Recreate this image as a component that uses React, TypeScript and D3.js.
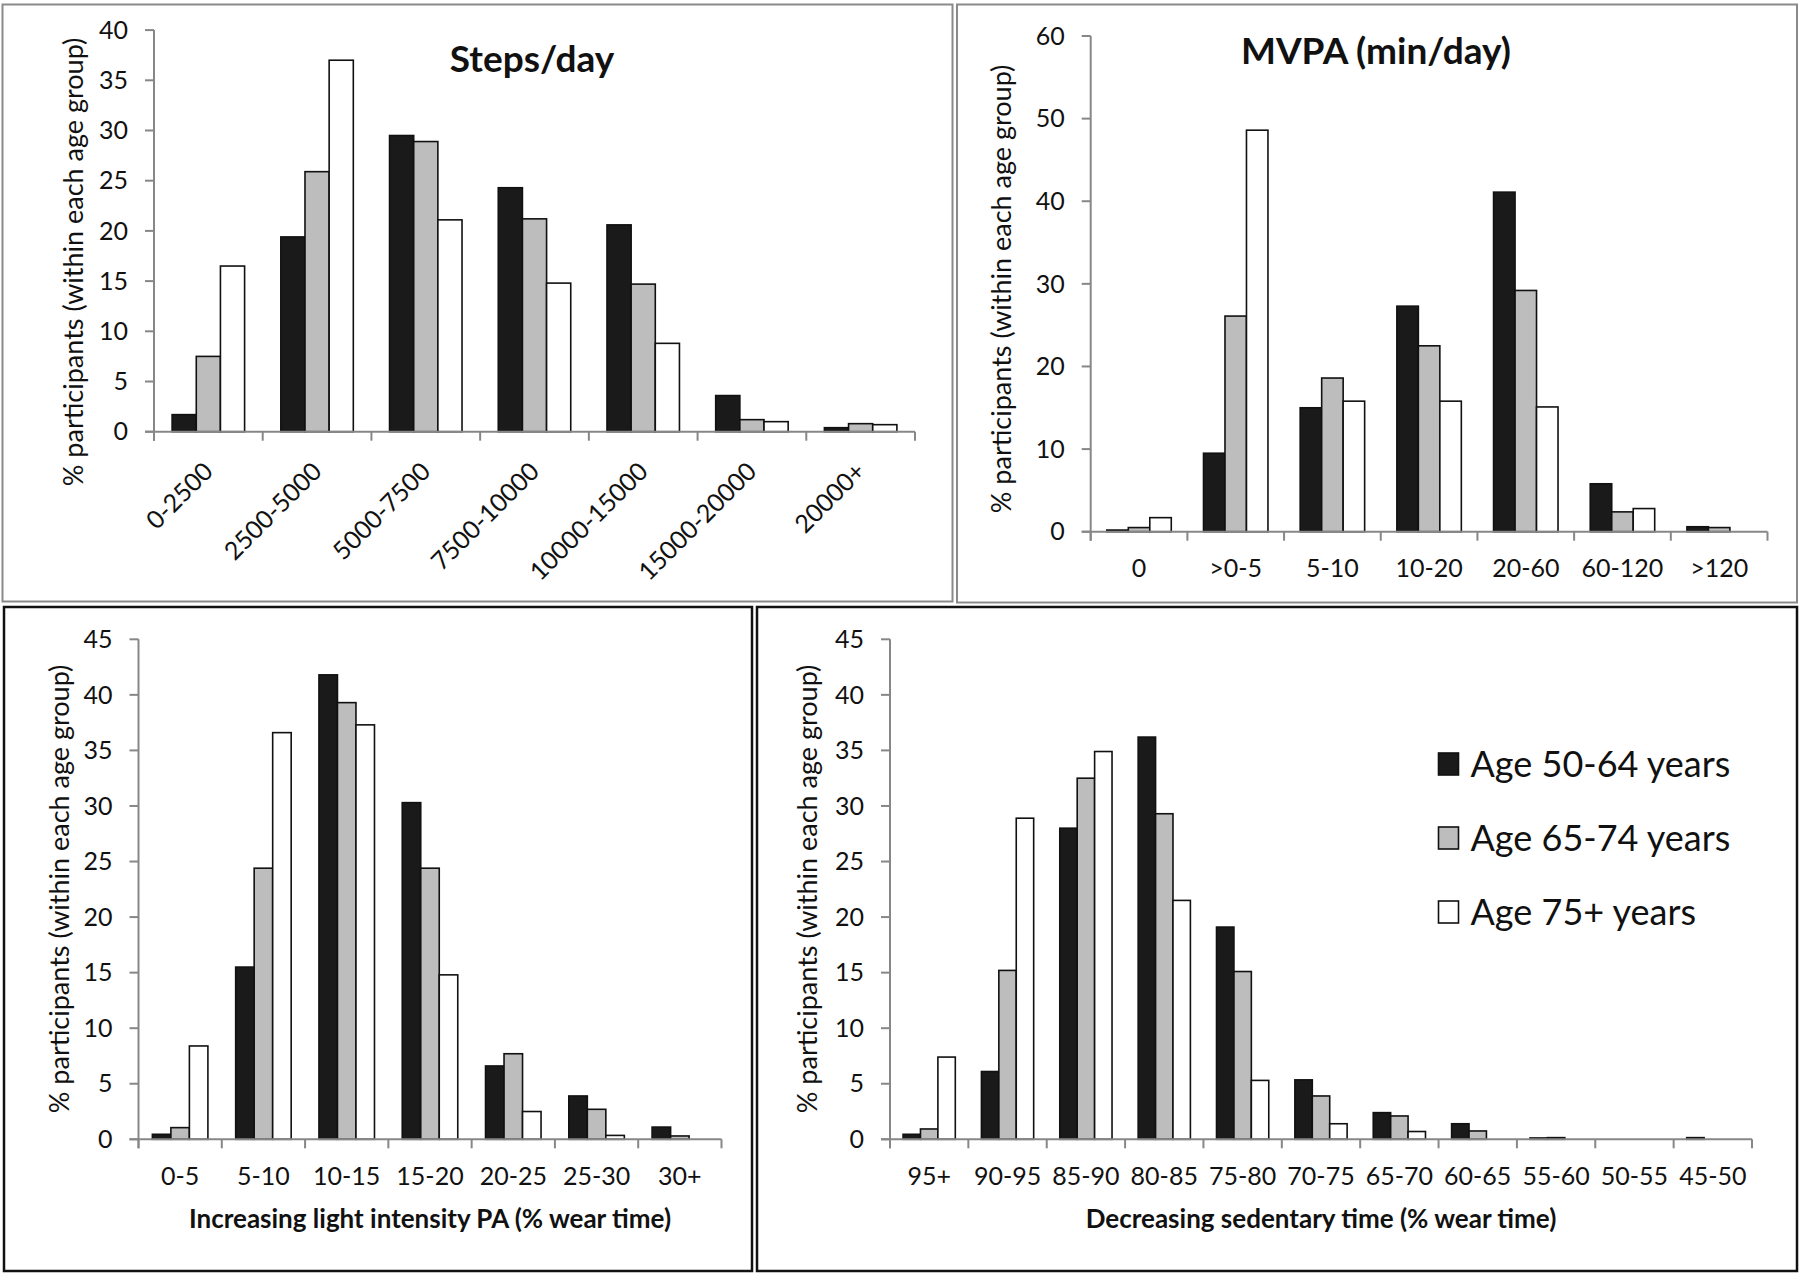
import React from "react";
import * as d3 from "d3";

// ---------- DATA ----------
const seriesNames = ["Age 50-64 years", "Age 65-74 years", "Age 75+ years"];
const seriesFills = ["#1a1a1a", "#bdbdbd", "#ffffff"];

const stepsCats = ["0-2500", "2500-5000", "5000-7500", "7500-10000", "10000-15000", "15000-20000", "20000+"];
const steps50 = [1.7, 19.4, 29.5, 24.3, 20.6, 3.6, 0.4];
const steps65 = [7.5, 25.9, 28.9, 21.2, 14.7, 1.2, 0.8];
const steps75 = [16.5, 37.0, 21.1, 14.8, 8.8, 1.0, 0.7];
const stepsTicks = [0, 5, 10, 15, 20, 25, 30, 35, 40];

const mvpaCats = ["0", ">0-5", "5-10", "10-20", "20-60", "60-120", ">120"];
const mvpa50 = [0.2, 9.5, 15.0, 27.3, 41.1, 5.8, 0.6];
const mvpa65 = [0.5, 26.1, 18.6, 22.5, 29.2, 2.4, 0.5];
const mvpa75 = [1.7, 48.6, 15.8, 15.8, 15.1, 2.8, 0];
const mvpaTicks = [0, 10, 20, 30, 40, 50, 60];

const lightCats = ["0-5", "5-10", "10-15", "15-20", "20-25", "25-30", "30+"];
const light50 = [0.45, 15.5, 41.8, 30.3, 6.6, 3.9, 1.1];
const light65 = [1.05, 24.4, 39.3, 24.4, 7.7, 2.7, 0.3];
const light75 = [8.4, 36.6, 37.3, 14.8, 2.5, 0.35, 0];
const lightTicks = [0, 5, 10, 15, 20, 25, 30, 35, 40, 45];

const sedCats = ["95+", "90-95", "85-90", "80-85", "75-80", "70-75", "65-70", "60-65", "55-60", "50-55", "45-50"];
const sed50 = [0.45, 6.1, 28.0, 36.2, 19.1, 5.35, 2.4, 1.4, 0.12, 0, 0.15];
const sed65 = [0.93, 15.2, 32.5, 29.3, 15.1, 3.9, 2.1, 0.75, 0.15, 0, 0];
const sed75 = [7.4, 28.9, 34.9, 21.5, 5.3, 1.4, 0.7, 0, 0, 0, 0];
const sedTicks = [0, 5, 10, 15, 20, 25, 30, 35, 40, 45];

const yTitle = "% participants (within each age group)";

const FONT = "Lato, 'Open Sans', sans-serif";
const AXIS = "#878787";

type PanelProps = {
  cats: string[];
  series: number[][];
  ticks: number[];
  x0: number; x1: number; yB: number; yT: number;
  rotated?: boolean;
  labelY?: number;
  title?: string; titleX?: number; titleY?: number;
  xTitle?: string; xTitleY?: number;
  yTitleX: number; yTitleY: number;
};

function Panel(p: PanelProps) {
  const x = d3.scaleBand<string>().domain(p.cats).range([p.x0, p.x1]).paddingInner(1 / 3).paddingOuter(1 / 6);
  const inner = d3.scaleBand<number>().domain([0, 1, 2]).range([0, x.bandwidth()]).padding(0);
  const yMax = p.ticks[p.ticks.length - 1];
  const y = d3.scaleLinear().domain([0, yMax]).range([p.yB, p.yT]);
  const step = x.step();
  const bounds = d3.range(p.cats.length + 1).map((i) => p.x0 + i * step);
  return (
    <g fontFamily={FONT}>
      {/* bars */}
      {p.cats.map((c, ci) =>
        p.series.map((s, si) => {
          const v = s[ci];
          if (!v) return null;
          const bx = (x(c) as number) + (inner(si) as number);
          return (
            <rect key={c + si} x={bx} y={y(v)} width={inner.bandwidth()} height={p.yB - y(v)}
              fill={seriesFills[si]} stroke="#111" strokeWidth={1.6} />
          );
        })
      )}
      {/* y axis */}
      <line x1={p.x0} x2={p.x0} y1={y(yMax)} y2={p.yB + 9} stroke={AXIS} strokeWidth={2} />
      {p.ticks.map((t) => (
        <g key={t}>
          <line x1={p.x0 - 9} x2={p.x0} y1={y(t)} y2={y(t)} stroke={AXIS} strokeWidth={2} />
          <text x={p.x0 - 26} y={y(t)} dy="0.35em" textAnchor="end" fontSize={25} fill="#111">{t}</text>
        </g>
      ))}
      {/* x axis */}
      <line x1={p.x0 - 9} x2={p.x1} y1={p.yB} y2={p.yB} stroke={AXIS} strokeWidth={2} />
      {bounds.map((bx, i) => (
        <line key={i} x1={bx} x2={bx} y1={p.yB} y2={p.yB + 9} stroke={AXIS} strokeWidth={2} />
      ))}
      {p.cats.map((c) => {
        const cx = (x(c) as number) + x.bandwidth() / 2;
        return p.rotated ? (
          <text key={c} transform={`translate(${cx},${p.yB + 35}) rotate(-45)`} dy="0.35em" textAnchor="end" fontSize={25} fill="#111">{c}</text>
        ) : (
          <text key={c} x={cx} y={p.labelY} textAnchor="middle" fontSize={25} fill="#111">{c}</text>
        );
      })}
      {/* y title */}
      <text transform={`translate(${p.yTitleX},${p.yTitleY}) rotate(-90)`} dy="0.35em" textAnchor="middle" fontSize={27} fill="#111">{yTitle}</text>
      {p.title && (
        <text x={p.titleX} y={p.titleY} textAnchor="middle" fontSize={37} fontWeight="bold" fill="#111">{p.title}</text>
      )}
      {p.xTitle && (
        <text x={(p.x0 + p.x1) / 2} y={p.xTitleY} textAnchor="middle" fontSize={26} fontWeight="bold" fill="#111">{p.xTitle}</text>
      )}
    </g>
  );
}

export default function App() {
  return (
    <svg width={1800} height={1276} style={{ position: "absolute", left: 0, top: 0, background: "#fff" }}>
      <rect x={0} y={0} width={1800} height={1276} fill="#fff" />
      {/* panel borders */}
      <rect x={2.5} y={4.5} width={950} height={597} fill="none" stroke="#8a8a8a" strokeWidth={2} />
      <rect x={957} y={4.5} width={840} height={598} fill="none" stroke="#8a8a8a" strokeWidth={2} />
      <rect x={4} y={607} width={748} height={664} fill="none" stroke="#111" strokeWidth={2.5} />
      <rect x={757} y={607} width={1040} height={664} fill="none" stroke="#111" strokeWidth={2.5} />

      <Panel cats={stepsCats} series={[steps50, steps65, steps75]} ticks={stepsTicks}
        x0={154} x1={915} yB={431.7} yT={30.1} rotated
        title="Steps/day" titleX={532} titleY={72} yTitleX={74} yTitleY={262} />
      <Panel cats={mvpaCats} series={[mvpa50, mvpa65, mvpa75]} ticks={mvpaTicks}
        x0={1090.7} x1={1767.5} yB={531.7} yT={36} labelY={577}
        title="MVPA (min/day)" titleX={1376} titleY={64} yTitleX={1002} yTitleY={289} />
      <Panel cats={lightCats} series={[light50, light65, light75]} ticks={lightTicks}
        x0={138.5} x1={721.5} yB={1139.3} yT={639.3} labelY={1185}
        xTitle="Increasing light intensity PA (% wear time)" xTitleY={1228} yTitleX={60} yTitleY={889} />
      <Panel cats={sedCats} series={[sed50, sed65, sed75]} ticks={sedTicks}
        x0={890} x1={1752} yB={1139.3} yT={639.3} labelY={1185}
        xTitle="Decreasing sedentary time (% wear time)" xTitleY={1228} yTitleX={808} yTitleY={889} />

      {/* legend */}
      <g fontFamily={FONT}>
        {seriesNames.map((n, i) => (
          <g key={n} transform={`translate(1438.5,${764 + i * 74})`}>
            <rect x={0} y={-11} width={20} height={22} fill={seriesFills[i]} stroke="#111" strokeWidth={1.6} />
            <text x={32} y={0} dy="0.35em" fontSize={36} fill="#111">{n}</text>
          </g>
        ))}
      </g>
    </svg>
  );
}
